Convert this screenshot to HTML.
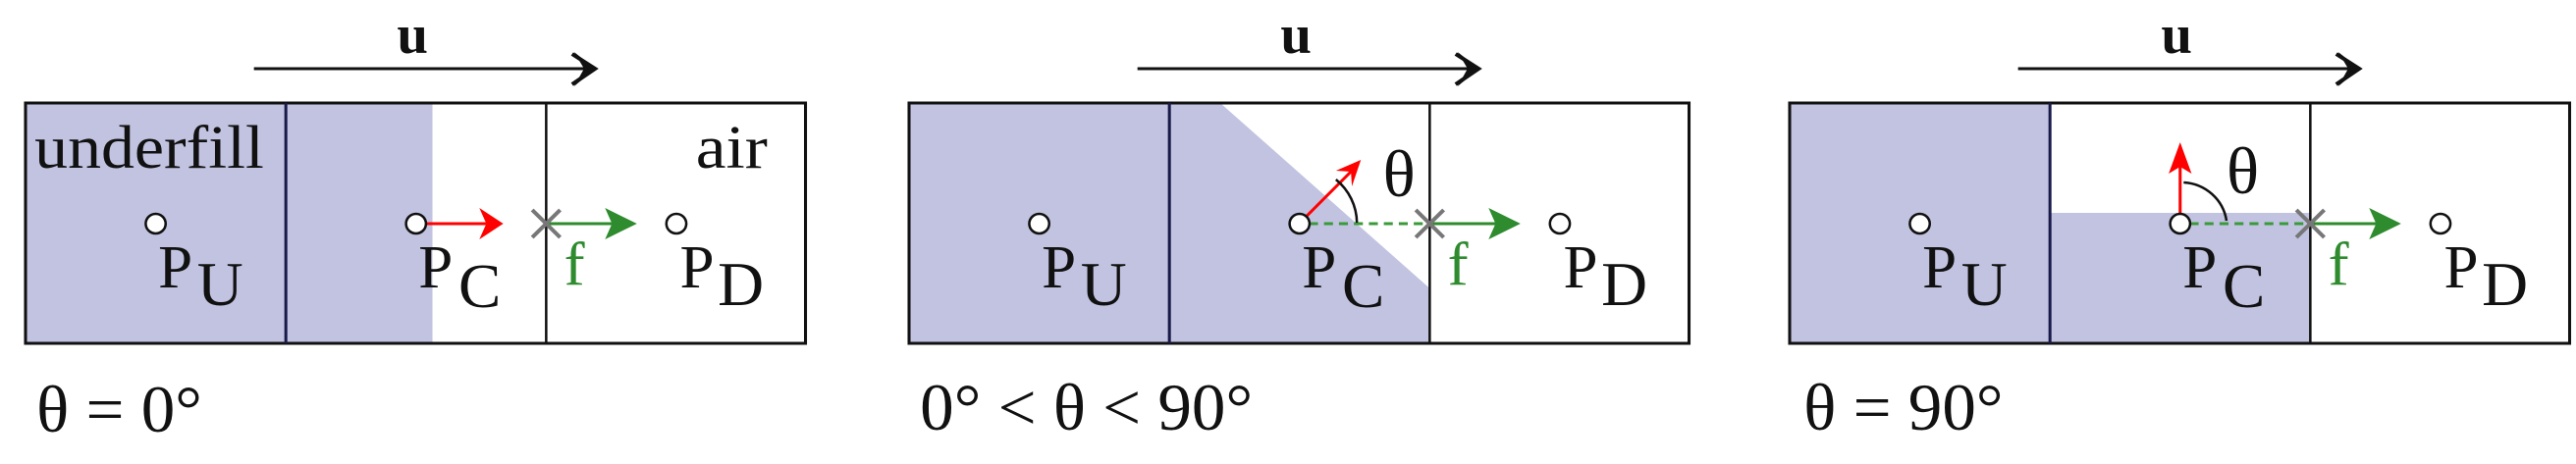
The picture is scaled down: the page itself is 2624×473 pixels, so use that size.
<!DOCTYPE html>
<html><head><meta charset="utf-8"><style>
html,body{margin:0;padding:0;background:#fff;}
svg{display:block;}
text{font-family:"Liberation Serif","DejaVu Serif",serif;}
</style></head><body>
<svg width="2624" height="473" viewBox="0 0 2624 473" xmlns="http://www.w3.org/2000/svg">
<defs>
<g id="pts">
  <circle cx="130.5" cy="228" r="10" fill="#fff" stroke="#111" stroke-width="2.5"/>
  <circle cx="391.5" cy="228" r="10" fill="#fff" stroke="#111" stroke-width="2.5"/>
  <circle cx="652.5" cy="228" r="10" fill="#fff" stroke="#111" stroke-width="2.5"/>
  <text x="133" y="293" font-size="62" fill="#111">P</text>
  <text x="172" y="311" font-size="64" fill="#111">U</text>
  <text x="394" y="293" font-size="62" fill="#111">P</text>
  <text x="434" y="313" font-size="64" fill="#111">C</text>
  <text x="656" y="293" font-size="62" fill="#111">P</text>
  <text x="694" y="311" font-size="64" fill="#111">D</text>
  <text x="540" y="290" font-size="62" fill="#2e8b2e">f</text>
  <line x1="525" y1="228" x2="590" y2="228" stroke="#2e8b2e" stroke-width="3"/>
  <polygon points="613,228 581,212 588,228 581,244" fill="#2e8b2e"/>
  <line x1="508" y1="214" x2="536" y2="242" stroke="#777" stroke-width="4"/>
  <line x1="508" y1="242" x2="536" y2="214" stroke="#777" stroke-width="4"/>
  <line x1="229" y1="70" x2="565" y2="70" stroke="#111" stroke-width="3"/>
  <polyline points="548,55 571,70 548,86" fill="none" stroke="#111" stroke-width="4"/>
  <polygon points="571,70 550,53 560,70 550,88" fill="#111"/>
  <text x="388" y="54" font-size="56" font-weight="bold" text-anchor="middle" fill="#111">u</text>
</g>
</defs>

<!-- Panel 1 -->
<g transform="translate(26,0) scale(1.016,1)">
  <rect x="0" y="105" width="408" height="245" fill="#c1c3e1"/>
  <text x="9" y="171" font-size="62" textLength="230" lengthAdjust="spacingAndGlyphs" fill="#111">underfill</text>
  <text x="672" y="171" font-size="62" textLength="72" lengthAdjust="spacingAndGlyphs" fill="#111">air</text>
  <rect x="0" y="105" width="782" height="245" fill="none" stroke="#111" stroke-width="3"/>
  <line x1="261" y1="105" x2="261" y2="350" stroke="#1a1a4a" stroke-width="3"/>
  <line x1="522" y1="105" x2="522" y2="350" stroke="#111" stroke-width="2.5"/>
  <line x1="402" y1="228" x2="462" y2="228" stroke="#f00" stroke-width="3"/>
  <polygon points="479,228 455,212 462,228 455,244" fill="#f00"/>
  <use href="#pts"/>
  <text x="11" y="440" font-size="68" fill="#111">θ = 0°</text>
</g>

<!-- Panel 2 -->
<g transform="translate(926,0) scale(1.016,1)">
  <rect x="0" y="105" width="261" height="245" fill="#c1c3e1"/>
  <polygon points="261,105 312,105 521,293 522,350 261,350" fill="#c1c3e1"/>
  <rect x="0" y="105" width="782" height="245" fill="none" stroke="#111" stroke-width="3"/>
  <line x1="261" y1="105" x2="261" y2="350" stroke="#1a1a4a" stroke-width="3"/>
  <line x1="522" y1="105" x2="522" y2="350" stroke="#111" stroke-width="2.5"/>
  <line x1="401" y1="228" x2="522" y2="228" stroke="#3a9a3a" stroke-width="3" stroke-dasharray="9,6"/>
  <line x1="391" y1="228" x2="443" y2="175" stroke="#f00" stroke-width="3"/>
  <polygon points="453,163 428,174 443,175 444,190" fill="#f00"/>
  <path d="M449,227 A58,58 0 0 0 428,183" fill="none" stroke="#111" stroke-width="2.5"/>
  <text x="475" y="200" font-size="68" fill="#111">θ</text>
  <use href="#pts"/>
  <text x="11" y="438" font-size="68" fill="#111">0° &lt; θ &lt; 90°</text>
</g>

<!-- Panel 3 -->
<g transform="translate(1823,0) scale(1.016,1)">
  <rect x="0" y="105" width="261" height="245" fill="#c1c3e1"/>
  <rect x="261" y="217" width="261" height="133" fill="#c1c3e1"/>
  <rect x="0" y="105" width="782" height="245" fill="none" stroke="#111" stroke-width="3"/>
  <line x1="261" y1="105" x2="261" y2="350" stroke="#1a1a4a" stroke-width="3"/>
  <line x1="522" y1="105" x2="522" y2="350" stroke="#111" stroke-width="2.5"/>
  <line x1="401" y1="228" x2="522" y2="228" stroke="#3a9a3a" stroke-width="3" stroke-dasharray="9,6"/>
  <line x1="391.5" y1="218" x2="391.5" y2="160" stroke="#f00" stroke-width="3"/>
  <polygon points="391.5,145 380,177 391.5,170 403,177" fill="#f00"/>
  <path d="M438,225 A46,46 0 0 0 395,186" fill="none" stroke="#111" stroke-width="2.5"/>
  <text x="438" y="197" font-size="68" fill="#111">θ</text>
  <use href="#pts"/>
  <text x="14" y="438" font-size="68" fill="#111">θ = 90°</text>
</g>
</svg>
</body></html>
